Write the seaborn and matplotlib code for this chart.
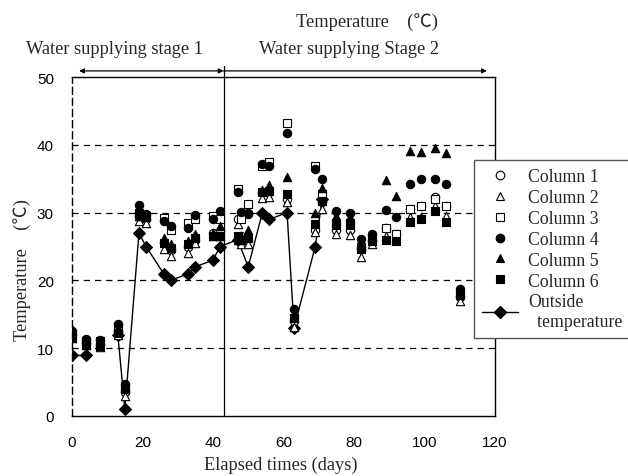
import numpy as np
import pandas as pd
import matplotlib
matplotlib.use("Agg")
import matplotlib.pyplot as plt
from matplotlib.lines import Line2D
import seaborn as sns

# ---------------- data ----------------
days = [0, 4, 8, 13, 15, 19, 21, 26, 28, 33, 35, 40, 42, 47, 48, 50, 54, 56, 61, 63,
        69, 71, 75, 79, 82, 85, 89, 92, 96, 99, 103, 106, 110]
col1 = [12.0, 10.8, 10.5, 12.5, 3.5, 29.5, 29.0, 25.5, 24.5, 25.0, 26.0, 27.0, 27.3, 29.0, 26.5, 29.8,
        33.0, 33.0, 32.0, 14.0, 27.5, 31.5, 27.5, 27.5, 24.6, 25.8, 27.7, 26.8, 30.5, 30.9, 32.3, 30.9, 17.5]
col2 = [11.5, 10.5, 10.2, 12.0, 3.0, 28.8, 28.5, 24.6, 23.6, 24.1, 25.5, 26.5, 26.5, 28.3, 25.4, 25.4,
        32.2, 32.3, 31.6, 13.2, 27.1, 30.5, 26.8, 26.7, 23.4, 25.4, 26.5, 26.3, 29.4, 29.4, 31.0, 29.5, 17.0]
col3 = [12.0, 11.0, 11.0, 13.0, 4.0, 30.0, 29.5, 29.2, 27.5, 28.5, 29.0, 29.5, 29.0, 33.5, 29.0, 31.3,
        36.9, 37.5, 43.2, 14.5, 36.8, 32.7, 28.5, 28.5, 25.0, 26.2, 27.7, 26.8, 30.5, 30.9, 32.0, 30.9, 18.0]
col4 = [12.5, 11.3, 11.2, 13.5, 4.7, 31.1, 29.8, 28.8, 28.0, 27.8, 29.6, 29.0, 30.3, 33.0, 30.1, 30.0,
        37.2, 36.8, 41.8, 15.8, 36.4, 34.9, 30.2, 29.9, 26.1, 26.8, 30.4, 29.4, 34.2, 35.0, 35.0, 34.2, 18.7]
col5 = [12.8, 11.0, 11.0, 13.0, 4.3, 29.5, 29.5, 26.3, 25.3, 25.8, 26.8, 27.0, 28.0, 26.0, 26.5, 27.5,
        33.4, 34.0, 35.2, 15.0, 30.0, 33.7, 29.5, 29.3, 25.5, 26.5, 34.8, 32.5, 39.1, 38.9, 39.6, 38.8, 18.3]
col6 = [11.5, 10.5, 10.3, 12.2, 4.0, 29.8, 29.3, 25.5, 24.8, 25.3, 26.2, 26.5, 26.6, 26.5, 26.0, 26.3,
        33.0, 33.2, 32.7, 14.5, 28.3, 31.7, 28.1, 28.1, 24.6, 25.8, 25.9, 25.8, 28.6, 29.0, 30.3, 28.6, 17.8]

# outside temperature (NaN = break in the line)
out_days = [0, 4, 8, 13, 15, 19, 21, 26, 28, 33, 35, 40, 42, 47, 50, 54, 56, 61, 63, 69, 71]
out_temp = [9, 9, np.nan, 12, 1, 27, 25, 21, 20, 21, 22, 23, 25, 26, 22, 30, 29, 30, 13, 25, 32]

col_labels = ["Column 1", "Column 2", "Column 3", "Column 4", "Column 5", "Column 6"]
outside_label = "Outside\n  temperature"
stage_day = 43
stage1_label = "Water supplying stage 1"
stage2_label = "Water supplying Stage 2"
title_text = "Temperature\u3000(\u2103)"
ylabel_text = "Temperature\u3000(\u2103)"
xlabel_text = "Elapsed times (days)"
x_ticks = [0, 20, 40, 60, 80, 100, 120]
y_ticks = [0, 10, 20, 30, 40, 50]

# ---------------- styling ----------------
sns.set_theme(style="white")
plt.rcParams["font.family"] = ["Liberation Sans", "DejaVu Sans"]
serif = ["Liberation Serif", "Noto Sans CJK JP", "DejaVu Serif"]
FS = 13.2
LFS = 12.8

W, H = 628, 477
fig = plt.figure(figsize=(W / 100, H / 100), dpi=100)
ax = fig.add_axes([72 / W, 1 - 417 / H, (495 - 72) / W, (417 - 78) / H])

markers = {
    "Column 1": dict(marker="o", fc="white"),
    "Column 2": dict(marker="^", fc="white"),
    "Column 3": dict(marker="s", fc="white"),
    "Column 4": dict(marker="o", fc="black"),
    "Column 5": dict(marker="^", fc="black"),
    "Column 6": dict(marker="s", fc="black"),
}
cols = [col1, col2, col3, col4, col5, col6]

# outside temperature line, split into segments at NaN
df_out = pd.DataFrame({"day": out_days, "temp": out_temp})
df_out["seg"] = df_out["temp"].isna().cumsum()
df_out = df_out.dropna()
for _, seg in df_out.groupby("seg"):
    sns.lineplot(data=seg, x="day", y="temp", ax=ax, color="black", lw=1.0,
                 marker="D", markersize=5.8, markerfacecolor="black",
                 markeredgecolor="black", zorder=3, legend=False)

for lab, vals in zip(col_labels, cols):
    m = markers[lab]
    d = pd.DataFrame({"day": days, "temp": vals})
    sns.scatterplot(data=d, x="day", y="temp", ax=ax, marker=m["marker"],
                    color=m["fc"], edgecolor="black", linewidth=0.8, s=36,
                    zorder=4, legend=False)

ax.set_xlim(0, 120)
ax.set_ylim(0, 50)
ax.set_xticks(x_ticks)
ax.set_yticks(y_ticks)
ax.set_xlabel("")
ax.set_ylabel("")
ax.tick_params(axis="x", direction="in", length=4, width=0.8, colors="black",
               pad=14, labelsize=11)
ax.tick_params(axis="y", length=0, pad=13, labelsize=11, colors="black")

for yv in [10, 20, 30, 40]:
    ax.axhline(yv, color="black", lw=0.9, ls=(0, (5, 4)), zorder=1)

for s in ["top", "right", "bottom"]:
    ax.spines[s].set_color("black")
    ax.spines[s].set_linewidth(1.0)
ax.spines["left"].set_color("black")
ax.spines["left"].set_linewidth(1.0)
ax.spines["left"].set_linestyle((0, (5, 3)))

# stage divider and arrows
ax.plot([stage_day, stage_day], [0, 51.6], color="black", lw=0.9, clip_on=False, zorder=2)
ax.annotate("", xy=(2, 50.9), xytext=(stage_day, 50.9), annotation_clip=False,
            arrowprops=dict(arrowstyle="<|-|>", color="black", lw=0.9,
                            mutation_scale=7, shrinkA=0, shrinkB=0))
ax.annotate("", xy=(117.7, 50.9), xytext=(stage_day, 50.9), annotation_clip=False,
            arrowprops=dict(arrowstyle="-|>", color="black", lw=0.9,
                            mutation_scale=7, shrinkA=0, shrinkB=0))

fig.text(115 / W, 1 - 50 / H, stage1_label, ha="center", va="center",
         family=serif, fontsize=FS)
fig.text(259 / W, 1 - 50 / H, stage2_label, ha="left", va="center",
         family=serif, fontsize=FS)
fig.text(367 / W, 1 - 22 / H, title_text, ha="center", va="center",
         family=serif, fontsize=FS)
fig.text(22 / W, 1 - 270 / H, ylabel_text, ha="center", va="center",
         rotation=90, family=serif, fontsize=FS)
fig.text(281 / W, 1 - 465 / H, xlabel_text, ha="center", va="center",
         family=serif, fontsize=FS)

# legend
handles = []
for lab in col_labels:
    m = markers[lab]
    handles.append(Line2D([], [], ls="none", marker=m["marker"], markersize=6.2,
                          markerfacecolor=m["fc"], markeredgecolor="black",
                          markeredgewidth=0.8))
handles.append(Line2D([], [], color="black", lw=1.0, marker="D", markersize=5.8,
                      markerfacecolor="black", markeredgecolor="black"))
labels = col_labels + [outside_label]
leg = fig.legend(handles, labels, loc="upper left",
                 bbox_to_anchor=(474 / W, 1 - 161 / H), bbox_transform=fig.transFigure,
                 frameon=True, fancybox=False, framealpha=1, edgecolor="#555555",
                 prop={"family": serif, "size": LFS}, labelspacing=0.22,
                 handlelength=2.0, handletextpad=0.6, borderpad=0.45,
                 borderaxespad=0)
leg.get_frame().set_linewidth(1.0)

fig.savefig("out.png", dpi=100)
